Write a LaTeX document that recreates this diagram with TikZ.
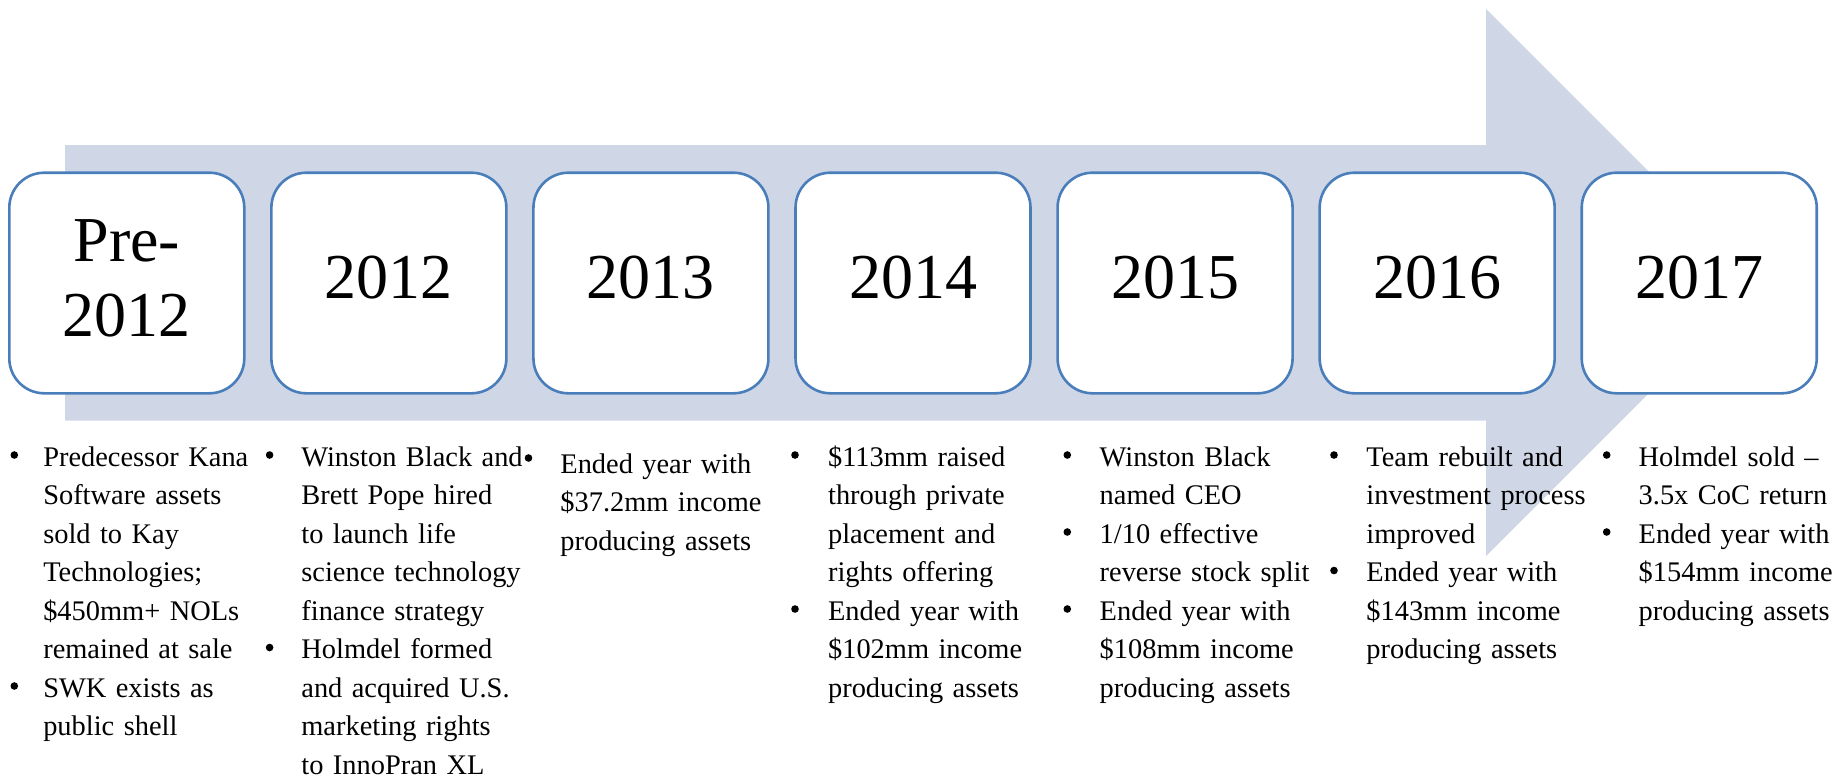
\documentclass[tikz,border=0pt]{standalone}
\usepackage{fontspec}
\setmainfont{Liberation Serif}
\definecolor{band}{RGB}{207,215,231}
\definecolor{edge}{RGB}{74,126,187}

\begin{document}
\begin{tikzpicture}[x=0.5pt,y=-0.5pt,
  yearbox/.style={draw=edge, line width=1.3pt, fill=white, rounded corners=17.5pt,
    minimum width=117.5pt, minimum height=110.3pt, inner sep=0pt},
  yeartext/.style={font=\fontsize{32pt}{37.5pt}\selectfont, align=center, inner sep=0pt},
  item/.style={font=\fontsize{14.2pt}{19.25pt}\selectfont, text width=135pt,
    align=left, inner sep=0pt, anchor=base west},
  dot/.style={circle, fill=black, inner sep=0pt, minimum size=3.8pt}]

% page frame
\fill[white] (0,0) rectangle (1837,778);
\useasboundingbox (0,0) rectangle (1837,778);

% broad timeline arrow
\fill[band] (65,145) -- (1486,145) -- (1486,9) -- (1759.5,282.5)
  -- (1486,556) -- (1486,420.5) -- (65,420.5) -- cycle;

% year boxes
\foreach \i in {1,...,7}
  \node[yearbox] (box\i) at ({126.8+262.07*(\i-1)},283) {};

\node[yeartext] (yr1) at ([yshift=2.5pt]box1.center) {Pre-\\2012};
\node[yeartext] (yr2) at ([yshift=2.5pt]box2.center) {2012};
\node[yeartext] (yr3) at ([yshift=2.5pt]box3.center) {2013};
\node[yeartext] (yr4) at ([yshift=2.5pt]box4.center) {2014};
\node[yeartext] (yr5) at ([yshift=2.5pt]box5.center) {2015};
\node[yeartext] (yr6) at ([yshift=2.5pt]box6.center) {2016};
\node[yeartext] (yr7) at ([yshift=2.5pt]box7.center) {2017};

% Pre-2012
\node[dot] (d1a) at (14.3,455) {};
\node[item] (t1a) at (42.9,466) {Predecessor Kana\\Software assets\\sold to Kay\\Technologies;\\\$450mm+ NOLs\\remained at sale};
\node[dot] (d1b) at (14.3,686) {};
\node[item] (t1b) at (42.9,697) {SWK exists as\\public shell};

% 2012
\node[dot] (d2a) at (269.6,455) {};
\node[item] (t2a) at (301,466) {Winston Black and\\Brett Pope hired\\to launch life\\science technology\\finance strategy};
\node[dot] (d2b) at (269.6,647.5) {};
\node[item] (t2b) at (301,658.5) {Holmdel formed\\and acquired U.S.\\marketing rights\\to InnoPran XL};

% 2013
\node[dot] (d3a) at (528.5,458) {};
\node[item] (t3a) at (560,473) {Ended year with\\\$37.2mm income\\producing assets};

% 2014
\node[dot] (d4a) at (795,455) {};
\node[item] (t4a) at (827.7,466) {\$113mm raised\\through private\\placement and\\rights offering};
\node[dot] (d4b) at (795,609) {};
\node[item] (t4b) at (827.7,620) {Ended year with\\\$102mm income\\producing assets};

% 2015
\node[dot] (d5a) at (1067.3,455) {};
\node[item] (t5a) at (1099.3,466) {Winston Black\\named CEO};
\node[dot] (d5b) at (1067.3,532) {};
\node[item] (t5b) at (1099.3,543) {1/10 effective\\reverse stock split};
\node[dot] (d5c) at (1067.3,609) {};
\node[item] (t5c) at (1099.3,620) {Ended year with\\\$108mm income\\producing assets};

% 2016
\node[dot] (d6a) at (1334,455) {};
\node[item] (t6a) at (1366,466) {Team rebuilt and\\investment process\\improved};
\node[dot] (d6b) at (1334,570.5) {};
\node[item] (t6b) at (1366,581.5) {Ended year with\\\$143mm income\\producing assets};

% 2017
\node[dot] (d7a) at (1606.7,455) {};
\node[item] (t7a) at (1638.3,466) {Holmdel sold --\\3.5x CoC return};
\node[dot] (d7b) at (1606.7,532) {};
\node[item] (t7b) at (1638.3,543) {Ended year with\\\$154mm income\\producing assets};

\end{tikzpicture}
\end{document}
